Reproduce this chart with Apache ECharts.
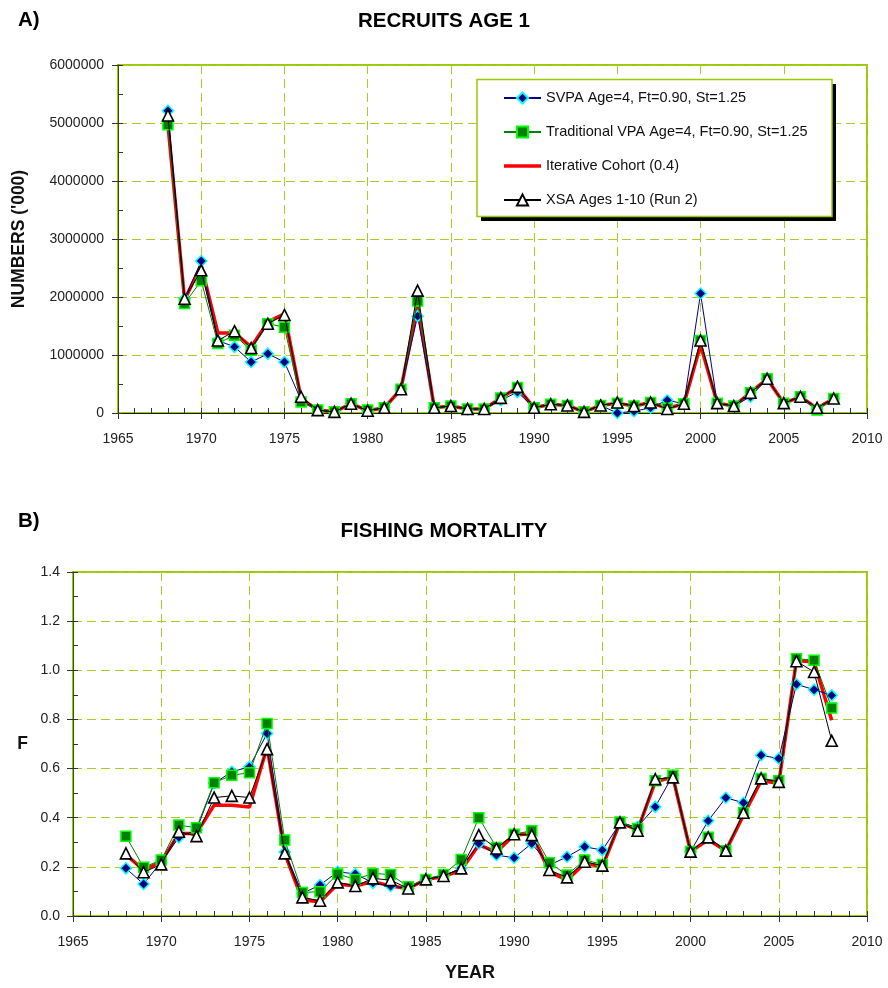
<!DOCTYPE html>
<html><head><meta charset="utf-8">
<script src="https://cdn.jsdelivr.net/npm/echarts@6/dist/echarts.min.js"></script>
<style>html,body{margin:0;padding:0;background:#fff}#c{width:888px;height:988px}</style>
</head><body><div id="c"></div>
<script>
const years = [1968,1969,1970,1971,1972,1973,1974,1975,1976,1977,1978,1979,1980,1981,1982,1983,1984,1985,1986,1987,1988,1989,1990,1991,1992,1993,1994,1995,1996,1997,1998,1999,2000,2001,2002,2003,2004,2005,2006,2007,2008];

const seriesNames = ['SVPA Age=4, Ft=0.90, St=1.25','Traditional VPA Age=4, Ft=0.90, St=1.25','Iterative Cohort (0.4)','XSA Ages 1-10 (Run 2)'];

// Recruits age 1, numbers ('000)
const recSVPA = [5210000,1970000,2620000,1250000,1140000,880000,1020000,880000,220000,50000,20000,160000,40000,90000,410000,1670000,90000,120000,60000,70000,220000,360000,90000,150000,130000,20000,130000,0,30000,90000,220000,160000,2060000,170000,120000,280000,590000,170000,280000,70000,250000];
const recVPA  = [4970000,1890000,2280000,1200000,1340000,1080000,1540000,1480000,190000,50000,20000,160000,50000,90000,410000,1930000,90000,120000,70000,70000,260000,440000,90000,150000,130000,20000,130000,170000,120000,180000,80000,160000,1250000,170000,120000,350000,590000,170000,280000,50000,250000];
const recICA  = [4970000,1950000,2550000,1380000,1380000,1140000,1570000,1710000,250000,50000,20000,160000,40000,90000,410000,1850000,90000,120000,70000,70000,260000,440000,90000,150000,130000,20000,130000,170000,120000,180000,80000,160000,1170000,170000,120000,350000,590000,170000,280000,80000,250000];
const recXSA  = [5130000,1970000,2460000,1250000,1410000,1120000,1540000,1690000,280000,50000,20000,160000,40000,90000,410000,2110000,90000,120000,70000,70000,260000,450000,90000,150000,130000,20000,130000,180000,120000,180000,70000,160000,1250000,170000,120000,350000,590000,170000,280000,90000,250000];

// Fishing mortality F
const fSVPA = [0.194,0.130,0.220,0.320,0.350,0.540,0.587,0.607,0.743,0.260,0.092,0.126,0.180,0.171,0.135,0.122,0.112,0.149,0.163,0.194,0.295,0.248,0.237,0.295,0.207,0.241,0.282,0.268,0.377,0.363,0.444,0.573,0.262,0.388,0.481,0.461,0.654,0.641,0.943,0.921,0.898];
const fVPA  = [0.325,0.198,0.228,0.370,0.359,0.542,0.573,0.583,0.783,0.309,0.096,0.099,0.171,0.149,0.173,0.169,0.119,0.149,0.169,0.230,0.400,0.279,0.333,0.347,0.217,0.167,0.228,0.210,0.383,0.356,0.550,0.573,0.262,0.320,0.266,0.420,0.560,0.550,1.047,1.041,0.847];
const fICA  = [0.250,0.187,0.220,0.336,0.336,0.451,0.451,0.444,0.688,0.255,0.065,0.058,0.130,0.122,0.140,0.122,0.112,0.149,0.160,0.187,0.289,0.260,0.330,0.335,0.180,0.146,0.215,0.200,0.380,0.350,0.546,0.565,0.262,0.310,0.266,0.410,0.550,0.540,1.040,1.034,0.797];
const fXSA  = [0.255,0.178,0.210,0.343,0.325,0.482,0.489,0.482,0.679,0.255,0.076,0.062,0.137,0.122,0.153,0.146,0.112,0.149,0.163,0.194,0.329,0.275,0.333,0.329,0.187,0.157,0.221,0.205,0.381,0.347,0.557,0.564,0.262,0.320,0.266,0.420,0.560,0.546,1.037,0.993,0.713];

const FONT = "'Liberation Sans',Arial,sans-serif";
const GRIDC = '#a6cf26';
const BORDER = '#99cc00';

function pairs(vals){ return years.map((y,i)=>[y, vals[i]]); }

function mainX(gi, withName){
  const ax = {gridIndex:gi, type:'value', min:1965, max:2010, interval:5, position:'bottom',
    axisLine:{show:true, onZero:false, lineStyle:{color:'#1a1a1a', width:1}},
    axisTick:{show:true, length:6, lineStyle:{color:'#333'}},
    axisLabel:{fontSize:14, color:'#222', fontFamily:FONT, margin:19, formatter:v=>String(v)},
    splitLine:{show:true, lineStyle:{color:GRIDC, width:1, type:[9,5]}}};
  if (withName){ Object.assign(ax,{name:'YEAR', nameLocation:'middle', nameGap:48,
    nameTextStyle:{fontSize:18, fontWeight:'bold', color:'#111', fontFamily:FONT}}); }
  return ax;
}
function minorX(gi){
  return {gridIndex:gi, type:'value', min:1965, max:2010, interval:1, position:'bottom',
    axisLine:{show:false}, axisTick:{show:true, inside:true, length:5, lineStyle:{color:'#333'}},
    axisLabel:{show:false}, splitLine:{show:false}};
}
function symbolSeries(name, data, xi, yi, kind){
  const base = {name, type:'line', xAxisIndex:xi, yAxisIndex:yi, data, animation:false};
  if (kind==='svpa') return Object.assign(base,{z:3, symbol:'diamond', symbolSize:11,
    lineStyle:{color:'#000080', width:1}, itemStyle:{color:'#000080', borderColor:'#00ffff', borderWidth:1.5}});
  if (kind==='vpa') return Object.assign(base,{z:4, symbol:'rect', symbolSize:10,
    lineStyle:{color:'#008000', width:1}, itemStyle:{color:'#008000', borderColor:'#00ff00', borderWidth:1.5}});
  if (kind==='ica') return Object.assign(base,{z:2, symbol:'none', showSymbol:false,
    lineStyle:{color:'#ff0000', width:3.5}, itemStyle:{color:'#ff0000'}});
  return Object.assign(base,{z:5, symbol:'triangle', symbolSize:11,
    lineStyle:{color:'#000000', width:1}, itemStyle:{color:'#ffffff', borderColor:'#000000', borderWidth:1.6}});
}

const chart = echarts.init(document.getElementById('c'), null, {renderer:'canvas'});
chart.setOption({
  animation:false,
  backgroundColor:'#ffffff',
  title:[
    {text:'A)', left:13, top:5, textStyle:{fontSize:20.5, fontWeight:'bold', color:'#000', fontFamily:FONT}},
    {text:'RECRUITS AGE 1', left:'center', top:6, textStyle:{fontSize:20.5, fontWeight:'bold', color:'#000', fontFamily:FONT}},
    {text:'B)', left:13, top:506, textStyle:{fontSize:20.5, fontWeight:'bold', color:'#000', fontFamily:FONT}},
    {text:'FISHING MORTALITY', left:'center', top:516, textStyle:{fontSize:20.5, fontWeight:'bold', color:'#000', fontFamily:FONT}}
  ],
  graphic:[
    {type:'rect', z:3, silent:true, shape:{x:481, y:84, width:355, height:137}, style:{fill:'#000'}},
    {type:'rect', z:3, silent:true, shape:{x:477, y:79.5, width:355, height:137}, style:{fill:'#fff', stroke:BORDER, lineWidth:1.5}}
  ],
  legend:{
    data:[seriesNames[0], seriesNames[1], {name:seriesNames[2], icon:'path://M0,0H40V4H0Z'}, seriesNames[3]],
    orient:'vertical', left:477, top:79, z:10,
    padding:[9,24,7,26], itemGap:14, itemWidth:37, itemHeight:14,
    textStyle:{fontSize:14.5, lineHeight:20, color:'#111', fontFamily:FONT},
    selectedMode:false
  },
  grid:[
    {left:118, right:21, top:65, height:348, show:true, borderColor:BORDER, borderWidth:2, backgroundColor:'transparent'},
    {left:73, right:21, top:572, height:344, show:true, borderColor:BORDER, borderWidth:2, backgroundColor:'transparent'}
  ],
  xAxis:[ mainX(0,false), minorX(0), mainX(1,true), minorX(1) ],
  yAxis:[
    {gridIndex:0, type:'value', min:0, max:6000000, interval:1000000, position:'left',
      name:"NUMBERS ('000)", nameLocation:'middle', nameGap:90, nameRotate:90,
      nameTextStyle:{fontSize:17.5, fontWeight:'bold', color:'#111', fontFamily:FONT},
      axisLine:{show:true, onZero:false, lineStyle:{color:'#3d4d00', width:1}},
      axisTick:{show:true, length:6, lineStyle:{color:'#333'}},
      axisLabel:{fontSize:14, color:'#222', fontFamily:FONT, margin:14, formatter:v=>String(v)},
      splitLine:{show:true, lineStyle:{color:GRIDC, width:1, type:[9,5]}}},
    {gridIndex:0, type:'value', min:0, max:6000000, interval:500000, position:'left',
      axisLine:{show:false}, axisTick:{show:true, inside:true, length:5, lineStyle:{color:'#333'}},
      axisLabel:{show:false}, splitLine:{show:false}},
    {gridIndex:1, type:'value', min:0, max:1.4, interval:0.2, position:'left',
      name:'F', nameLocation:'middle', nameGap:45, nameRotate:0,
      nameTextStyle:{fontSize:17.5, fontWeight:'bold', color:'#111', fontFamily:FONT},
      axisLine:{show:true, onZero:false, lineStyle:{color:'#3d4d00', width:1}},
      axisTick:{show:true, length:6, lineStyle:{color:'#333'}},
      axisLabel:{fontSize:14, color:'#222', fontFamily:FONT, margin:13, formatter:v=>v.toFixed(1)},
      splitLine:{show:true, lineStyle:{color:GRIDC, width:1, type:[9,5]}}},
    {gridIndex:1, type:'value', min:0, max:1.4, interval:0.1, position:'left',
      axisLine:{show:false}, axisTick:{show:true, inside:true, length:5, lineStyle:{color:'#333'}},
      axisLabel:{show:false}, splitLine:{show:false}}
  ],
  series:[
    symbolSeries(seriesNames[0], pairs(recSVPA), 0, 0, 'svpa'),
    symbolSeries(seriesNames[1], pairs(recVPA), 0, 0, 'vpa'),
    symbolSeries(seriesNames[2], pairs(recICA), 0, 0, 'ica'),
    symbolSeries(seriesNames[3], pairs(recXSA), 0, 0, 'xsa'),
    symbolSeries(seriesNames[0], pairs(fSVPA), 2, 2, 'svpa'),
    symbolSeries(seriesNames[1], pairs(fVPA), 2, 2, 'vpa'),
    symbolSeries(seriesNames[2], pairs(fICA), 2, 2, 'ica'),
    symbolSeries(seriesNames[3], pairs(fXSA), 2, 2, 'xsa')
  ]
});
</script>
</body></html>
